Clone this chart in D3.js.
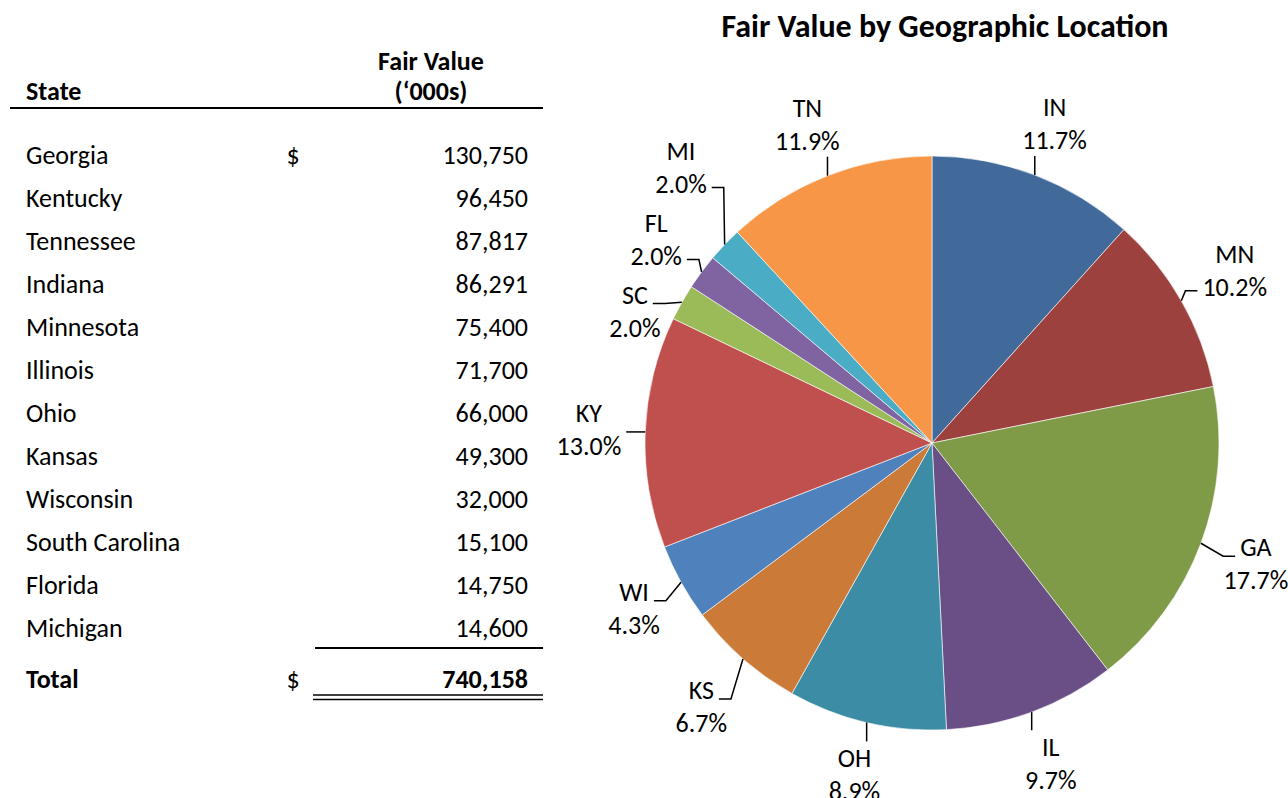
<!DOCTYPE html>
<html>
<head>
<meta charset="utf-8">
<script src="https://cdn.jsdelivr.net/npm/d3@7"></script>
<style>
  html, body { margin: 0; padding: 0; background: #fff; }
  svg { display: block; font-family: Carlito, Calibri, Lato, sans-serif; }
</style>
</head>
<body>
<svg id="chart" width="1288" height="798"></svg>
<script>
'use strict';

/* ---- table data ---- */
const stateNames = ['Georgia', 'Kentucky', 'Tennessee', 'Indiana', 'Minnesota', 'Illinois',
    'Ohio', 'Kansas', 'Wisconsin', 'South Carolina', 'Florida', 'Michigan'];
const stateValues = [130750, 96450, 87817, 86291, 75400, 71700, 66000, 49300, 32000, 15100, 14750, 14600];
const totalValue = 740158;

/* ---- pie data (clockwise from 12 o'clock) ---- */
const sliceCodes = ['IN', 'MN', 'GA', 'IL', 'OH', 'KS', 'WI', 'KY', 'SC', 'FL', 'MI', 'TN'];
const sliceValues = [86291, 75400, 130750, 71700, 66000, 49300, 32000, 96450, 15100, 14750, 14600, 87817];
const sliceColors = ['#416A9B', '#9D413E', '#7F9B48', '#694F86', '#3B8CA4', '#CB7A38',
    '#4F81BD', '#C0504D', '#9BBB59', '#8064A2', '#4BACC6', '#F79646'];

const svg = d3.select('#chart');
const fmtNum = d3.format(',');
const fmtPct = d3.format('.1%');
const FS = 26;

/* ==========================================================================
   Table
   ========================================================================== */
const tbl = svg.append('g');
const rowY = d3.scalePoint().domain(stateNames).range([164, 637]);
const xName = 26, xDollar = 293, xValue = 528;

tbl.append('text').attr('x', xName).attr('y', 100).attr('font-size', FS).attr('font-weight', 'bold').text('State');
tbl.append('text').attr('x', 431).attr('y', 70).attr('font-size', FS).attr('font-weight', 'bold')
    .attr('text-anchor', 'middle').text('Fair Value');
tbl.append('text').attr('x', 431).attr('y', 100).attr('font-size', FS).attr('font-weight', 'bold')
    .attr('text-anchor', 'middle').text('(\u2018000s)');
tbl.append('line').attr('x1', 10).attr('x2', 543).attr('y1', 108).attr('y2', 108)
    .attr('stroke', '#000').attr('stroke-width', 2);

const rows = tbl.selectAll('g.row').data(stateNames).join('g').attr('class', 'row');
rows.append('text').attr('x', xName).attr('y', d => rowY(d)).attr('font-size', FS).text(d => d);
rows.append('text').attr('x', xValue).attr('y', d => rowY(d)).attr('font-size', FS)
    .attr('text-anchor', 'end').text((d, i) => fmtNum(stateValues[i]));
tbl.append('text').attr('x', xDollar).attr('y', rowY(stateNames[0])).attr('font-size', FS)
    .attr('text-anchor', 'middle').text('$');

const totalY = rowY(stateNames[stateNames.length - 1]) + 51;
tbl.append('line').attr('x1', 315).attr('x2', 543).attr('y1', 648).attr('y2', 648)
    .attr('stroke', '#000').attr('stroke-width', 2);
tbl.append('text').attr('x', xName).attr('y', totalY).attr('font-size', FS).attr('font-weight', 'bold').text('Total');
tbl.append('text').attr('x', xDollar).attr('y', totalY).attr('font-size', FS).attr('text-anchor', 'middle').text('$');
tbl.append('text').attr('x', xValue).attr('y', totalY).attr('font-size', FS).attr('font-weight', 'bold')
    .attr('text-anchor', 'end').text(fmtNum(totalValue));
[695, 699.5].forEach(y => tbl.append('line').attr('x1', 313).attr('x2', 543).attr('y1', y).attr('y2', y)
    .attr('stroke', '#000').attr('stroke-width', 1.6));

/* ==========================================================================
   Pie
   ========================================================================== */
const cx = 932, cy = 443, R = 287;
svg.append('text').attr('x', 945).attr('y', 37).attr('font-size', 32).attr('font-weight', 'bold')
    .attr('text-anchor', 'middle').text('Fair Value by Geographic Location');

const pg = svg.append('g').attr('transform', `translate(${cx},${cy})`);
const arcs = d3.pie().sort(null).value(d => d)(sliceValues);
const arc = d3.arc().innerRadius(0).outerRadius(R);
const total = d3.sum(sliceValues);

pg.selectAll('path.slice').data(arcs).join('path')
    .attr('class', 'slice')
    .attr('d', arc)
    .attr('fill', (d, i) => sliceColors[i])
    .attr('stroke', '#fff').attr('stroke-width', 0.6);

/* labels: place outside, then push overlapping ones apart */
const lblG = pg.append('g');
const GAP = 22, HALF_H = 31, LINE = 33;
const labels = arcs.map((d, i) => {
    const mid = (d.startAngle + d.endAngle) / 2;
    const sx = Math.sin(mid), sy = -Math.cos(mid);
    const g = lblG.append('g');
    const t1 = g.append('text').attr('font-size', FS).attr('text-anchor', 'middle').text(sliceCodes[i]);
    const t2 = g.append('text').attr('font-size', FS).attr('text-anchor', 'middle').text(fmtPct(d.value / total));
    const w1 = t1.node().getComputedTextLength(), w2 = t2.node().getComputedTextLength();
    const w = Math.max(w1, w2) / 2 + 2;
    const rc = R + GAP + Math.min(w / Math.max(Math.abs(sx), 1e-6), HALF_H / Math.max(Math.abs(sy), 1e-6));
    return { g, t1, t2, w1, w2, w, sx, sy, x: rc * sx, y: rc * sy, px: R * sx, py: R * sy };
});

['left', 'right'].forEach(side => {
    const grp = labels.filter(l => side === 'left' ? l.sx < 0 : l.sx >= 0).sort((a, b) => a.y - b.y);
    const minD = 2 * LINE + 6;
    for (let it = 0; it < 200; it++) {
        for (let k = 1; k < grp.length; k++) {
            const a = grp[k - 1], b = grp[k];
            const xOverlap = Math.abs(a.x - b.x) < a.w + b.w;
            if (xOverlap && b.y - a.y < minD) {
                const d = (minD - (b.y - a.y)) / 2;
                a.y -= d; b.y += d;
            }
        }
    }
});

labels.forEach(l => {
    l.t1.attr('x', l.x).attr('y', l.y - LINE / 2 + 9);
    l.t2.attr('x', l.x).attr('y', l.y + LINE / 2 + 9);

    let pts;
    if (l.px >= l.x - l.w && l.px <= l.x + l.w) {
        // label above or below the slice: straight vertical leader
        const endY = l.y < l.py ? l.y + LINE / 2 + 16 : l.y - LINE / 2 - 17;
        pts = [[l.px, l.py], [l.px, endY]];
    } else {
        const top = l.y - LINE / 2 - 9, bottom = l.y + LINE / 2 + 9;
        const qy = Math.max(top + 18, Math.min(bottom - 5, l.py));
        const lineW = qy < l.y ? l.w1 : l.w2;
        const dir = l.sx < 0 ? 1 : -1;
        const qx = l.x + dir * (lineW / 2 + 5);
        let ex = qx + dir * 12;
        if ((ex - l.px) * dir > 0) ex = l.px;
        pts = [[l.px, l.py], [ex, qy], [qx, qy]];
    }
    lblG.insert('path', ':first-child')
        .attr('d', d3.line()(pts))
        .attr('fill', 'none').attr('stroke', '#000').attr('stroke-width', 1.5);
});
</script>
</body>
</html>
